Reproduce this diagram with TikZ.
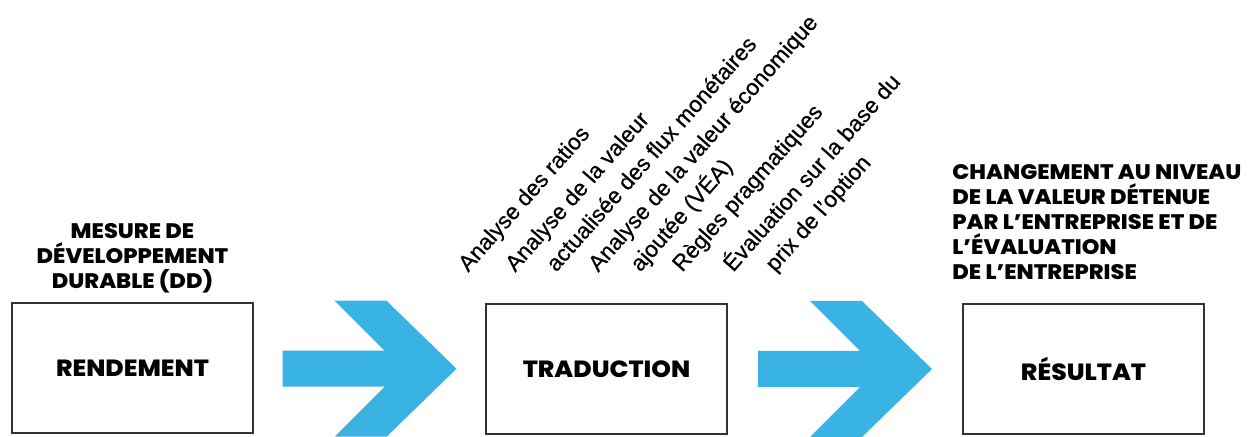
\documentclass[tikz,border=0pt]{standalone}
\usepackage{fontspec}
\setmainfont{Liberation Sans}
\newfontfamily\headfont{Poppins}[FakeStretch=1.07, BoldFont={* ExtraBold}]
\newfontfamily\methodfont{Liberation Sans}[FakeBold=0.6]
\usetikzlibrary{positioning,calc}
\definecolor{arrowblue}{RGB}{57,178,228}

\begin{document}
\begin{tikzpicture}[x=0.5pt,y=-0.5pt]
\tikzstyle{stage}=[rectangle, draw=black!80, line width=1pt, minimum width=120.5pt, minimum height=65pt, font=\headfont\bfseries\fontsize{11.7}{14}\selectfont]
\tikzstyle{head}=[font=\headfont\bfseries\fontsize{10.5}{12.5}\selectfont, inner sep=0pt]
\tikzstyle{method}=[font=\methodfont\fontsize{11.3}{13}\selectfont, rotate=48.5, anchor=base west, inner sep=0pt]
\tikzstyle{bigarrow}=[fill=arrowblue]

\useasboundingbox (0,0) rectangle (1251,437);

  % the three stages
  \node[stage] (rend) at (132.5,368.5) {RENDEMENT};
  \node[stage] (trad) at (606.5,369)   {TRADUCTION};
  \node[stage] (res)  at (1083.5,369)  {RÉSULTAT};

  \node[head, align=center, above=4.5pt of rend] (rendh)
    {MESURE DE\\DÉVELOPPEMENT\\DURABLE (DD)};
  \node[head, align=left, above=11.5pt of res.north west, anchor=south west, xshift=-5pt] (resh)
    {CHANGEMENT AU NIVEAU\\DE LA VALEUR DÉTENUE\\PAR L’ENTREPRISE ET DE\\L’ÉVALUATION\\DE L’ENTREPRISE};

  % methods of translation
  \foreach \x/\txt [count=\i] in {468/Analyse des ratios,
                                  515/Analyse de la valeur,
                                  556/actualisée des flux monétaires,
                                  598/Analyse de la valeur économique,
                                  640/ajoutée (VÉA),
                                  682/Règles pragmatiques,
                                  733/Évaluation sur la base du,
                                  775/prix de l’option}
    \node[method] (m\i) at (\x,273) {\txt};

  % big arrows between the stages
  \foreach \a/\b in {rend/trad, trad/res}
    \fill[bigarrow, shift={($(\a.east)!0.5!(\b.west)$)}]
      (-87,-18) -- (15,-18) -- (-35,-68) -- (17,-68) -- (87,0)
      -- (17,68) -- (-35,68) -- (15,18) -- (-87,18) -- cycle;

\end{tikzpicture}
\end{document}
